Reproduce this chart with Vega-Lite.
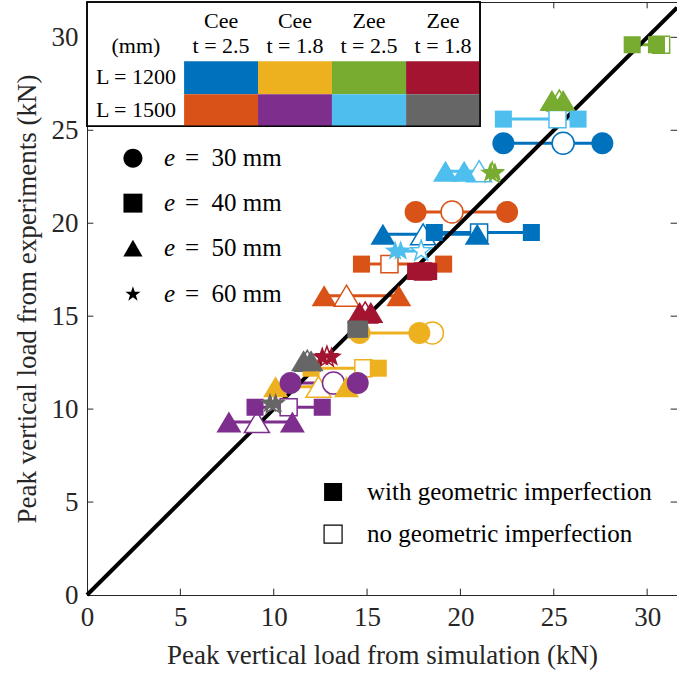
{
  "$schema": "https://vega.github.io/schema/vega-lite/v6.json",
  "width": 590,
  "height": 593,
  "autosize": {"type": "none"},
  "padding": {"left": 87, "top": 2, "right": 0, "bottom": 83},
  "background": "white",
  "config": {
    "view": {"stroke": "#262626", "strokeWidth": 1},
    "font": "'Liberation Serif', 'Times New Roman', serif",
    "axis": {
      "grid": false,
      "ticks": false,
      "labelFlush": false,
      "labelOverlap": false,
      "domainColor": "#262626",
      "labelColor": "#262626",
      "titleColor": "#262626",
      "labelFont": "'Liberation Serif', 'Times New Roman', serif",
      "titleFont": "'Liberation Serif', 'Times New Roman', serif",
      "labelFontSize": 27,
      "titleFontSize": 27,
      "titleFontWeight": "normal",
      "domainWidth": 1
    },
    "text": {"font": "'Liberation Serif', 'Times New Roman', serif"}
  },
  "datasets": {
    "pts": [
      {"g": "C25_1200", "e": 30, "exp": 24.3, "sim": 22.3, "imp": "with"},
      {"g": "C25_1200", "e": 30, "exp": 24.3, "sim": 25.5, "imp": "no"},
      {"g": "C25_1200", "e": 30, "exp": 24.3, "sim": 27.6, "imp": "with"},
      {"g": "C25_1200", "e": 40, "exp": 19.5, "sim": 18.6, "imp": "with"},
      {"g": "C25_1200", "e": 40, "exp": 19.5, "sim": 21.0, "imp": "no"},
      {"g": "C25_1200", "e": 40, "exp": 19.5, "sim": 23.8, "imp": "with"},
      {"g": "C25_1200", "e": 50, "exp": 19.4, "sim": 15.85, "imp": "with"},
      {"g": "C25_1200", "e": 50, "exp": 19.4, "sim": 18.0, "imp": "no"},
      {"g": "C25_1200", "e": 50, "exp": 19.4, "sim": 20.9, "imp": "with"},
      {"g": "C25_1500", "e": 30, "exp": 20.6, "sim": 17.6, "imp": "with"},
      {"g": "C25_1500", "e": 30, "exp": 20.6, "sim": 19.55, "imp": "no"},
      {"g": "C25_1500", "e": 30, "exp": 20.6, "sim": 22.5, "imp": "with"},
      {"g": "C25_1500", "e": 40, "exp": 17.8, "sim": 14.7, "imp": "with"},
      {"g": "C25_1500", "e": 40, "exp": 17.8, "sim": 16.2, "imp": "no"},
      {"g": "C25_1500", "e": 40, "exp": 17.8, "sim": 19.1, "imp": "with"},
      {"g": "C25_1500", "e": 50, "exp": 16.1, "sim": 12.7, "imp": "with"},
      {"g": "C25_1500", "e": 50, "exp": 16.1, "sim": 13.9, "imp": "no"},
      {"g": "C25_1500", "e": 50, "exp": 16.1, "sim": 16.7, "imp": "with"},
      {"g": "C18_1200", "e": 30, "exp": 14.1, "sim": 14.6, "imp": "with"},
      {"g": "C18_1200", "e": 30, "exp": 14.1, "sim": 18.5, "imp": "no"},
      {"g": "C18_1200", "e": 30, "exp": 14.1, "sim": 17.8, "imp": "with"},
      {"g": "C18_1200", "e": 40, "exp": 12.2, "sim": 12.0, "imp": "with"},
      {"g": "C18_1200", "e": 40, "exp": 12.2, "sim": 14.8, "imp": "no"},
      {"g": "C18_1200", "e": 40, "exp": 12.2, "sim": 15.6, "imp": "with"},
      {"g": "C18_1200", "e": 50, "exp": 11.2, "sim": 10.1, "imp": "with"},
      {"g": "C18_1200", "e": 50, "exp": 11.2, "sim": 12.4, "imp": "no"},
      {"g": "C18_1200", "e": 50, "exp": 11.2, "sim": 13.9, "imp": "with"},
      {"g": "C18_1500", "e": 30, "exp": 11.4, "sim": 10.9, "imp": "with"},
      {"g": "C18_1500", "e": 30, "exp": 11.4, "sim": 13.2, "imp": "no"},
      {"g": "C18_1500", "e": 30, "exp": 11.4, "sim": 14.5, "imp": "with"},
      {"g": "C18_1500", "e": 40, "exp": 10.1, "sim": 9.0, "imp": "with"},
      {"g": "C18_1500", "e": 40, "exp": 10.1, "sim": 10.8, "imp": "no"},
      {"g": "C18_1500", "e": 40, "exp": 10.1, "sim": 12.6, "imp": "with"},
      {"g": "C18_1500", "e": 50, "exp": 9.3, "sim": 7.6, "imp": "with"},
      {"g": "C18_1500", "e": 50, "exp": 9.3, "sim": 9.1, "imp": "no"},
      {"g": "C18_1500", "e": 50, "exp": 9.3, "sim": 11.0, "imp": "with"},
      {"g": "Z25_1200", "e": 40, "exp": 29.6, "sim": 29.2, "imp": "with"},
      {"g": "Z25_1200", "e": 40, "exp": 29.6, "sim": 30.75, "imp": "no"},
      {"g": "Z25_1200", "e": 40, "exp": 29.6, "sim": 30.5, "imp": "with"},
      {"g": "Z25_1200", "e": 50, "exp": 26.6, "sim": 24.9, "imp": "with"},
      {"g": "Z25_1200", "e": 50, "exp": 26.6, "sim": 25.3, "imp": "no"},
      {"g": "Z25_1200", "e": 50, "exp": 26.6, "sim": 25.5, "imp": "with"},
      {"g": "Z25_1200", "e": 60, "exp": 22.7, "sim": 21.6, "imp": "with"},
      {"g": "Z25_1200", "e": 60, "exp": 22.7, "sim": 21.7, "imp": "no"},
      {"g": "Z25_1200", "e": 60, "exp": 22.7, "sim": 21.85, "imp": "with"},
      {"g": "Z25_1500", "e": 40, "exp": 25.6, "sim": 22.3, "imp": "with"},
      {"g": "Z25_1500", "e": 40, "exp": 25.6, "sim": 25.2, "imp": "no"},
      {"g": "Z25_1500", "e": 40, "exp": 25.6, "sim": 26.3, "imp": "with"},
      {"g": "Z25_1500", "e": 50, "exp": 22.8, "sim": 20.2, "imp": "with"},
      {"g": "Z25_1500", "e": 50, "exp": 22.8, "sim": 21.0, "imp": "no"},
      {"g": "Z25_1500", "e": 50, "exp": 22.8, "sim": 19.2, "imp": "with"},
      {"g": "Z25_1500", "e": 60, "exp": 18.5, "sim": 16.5, "imp": "with"},
      {"g": "Z25_1500", "e": 60, "exp": 18.5, "sim": 17.9, "imp": "no"},
      {"g": "Z25_1500", "e": 60, "exp": 18.5, "sim": 16.8, "imp": "with"},
      {"g": "Z18_1200", "e": 40, "exp": 17.4, "sim": 17.6, "imp": "with"},
      {"g": "Z18_1200", "e": 40, "exp": 17.4, "sim": 18.0, "imp": "no"},
      {"g": "Z18_1200", "e": 40, "exp": 17.4, "sim": 18.3, "imp": "with"},
      {"g": "Z18_1200", "e": 50, "exp": 15.2, "sim": 14.6, "imp": "with"},
      {"g": "Z18_1200", "e": 50, "exp": 15.2, "sim": 14.9, "imp": "no"},
      {"g": "Z18_1200", "e": 50, "exp": 15.2, "sim": 15.2, "imp": "with"},
      {"g": "Z18_1200", "e": 60, "exp": 12.8, "sim": 12.6, "imp": "with"},
      {"g": "Z18_1200", "e": 60, "exp": 12.8, "sim": 12.85, "imp": "no"},
      {"g": "Z18_1200", "e": 60, "exp": 12.8, "sim": 13.1, "imp": "with"},
      {"g": "Z18_1500", "e": 40, "exp": 14.3, "sim": 14.4, "imp": "with"},
      {"g": "Z18_1500", "e": 40, "exp": 14.3, "sim": 14.5, "imp": "no"},
      {"g": "Z18_1500", "e": 40, "exp": 14.3, "sim": 14.6, "imp": "with"},
      {"g": "Z18_1500", "e": 50, "exp": 12.6, "sim": 11.6, "imp": "with"},
      {"g": "Z18_1500", "e": 50, "exp": 12.6, "sim": 11.8, "imp": "no"},
      {"g": "Z18_1500", "e": 50, "exp": 12.6, "sim": 12.0, "imp": "with"},
      {"g": "Z18_1500", "e": 60, "exp": 10.3, "sim": 9.8, "imp": "with"},
      {"g": "Z18_1500", "e": 60, "exp": 10.3, "sim": 9.95, "imp": "no"},
      {"g": "Z18_1500", "e": 60, "exp": 10.3, "sim": 10.1, "imp": "with"}
    ],
    "diag": [{"sim": 0, "exp": 0}, {"sim": 31.6, "exp": 31.6}],
    "tickvals": [{"v": 5}, {"v": 10}, {"v": 15}, {"v": 20}, {"v": 25}, {"v": 30}],
    "box": [{"x0": 0, "x1": 21.05, "y0": 25.22, "y1": 31.9}],
    "cells": [
      {"g": "C25_1200", "x0": 5.2, "x1": 9.16, "y0": 26.94, "y1": 28.71},
      {"g": "C18_1200", "x0": 9.16, "x1": 13.12, "y0": 26.94, "y1": 28.71},
      {"g": "Z25_1200", "x0": 13.12, "x1": 17.09, "y0": 26.94, "y1": 28.71},
      {"g": "Z18_1200", "x0": 17.09, "x1": 21.05, "y0": 26.94, "y1": 28.71},
      {"g": "C25_1500", "x0": 5.2, "x1": 9.16, "y0": 25.22, "y1": 26.94},
      {"g": "C18_1500", "x0": 9.16, "x1": 13.12, "y0": 25.22, "y1": 26.94},
      {"g": "Z25_1500", "x0": 13.12, "x1": 17.09, "y0": 25.22, "y1": 26.94},
      {"g": "Z18_1500", "x0": 17.09, "x1": 21.05, "y0": 25.22, "y1": 26.94}
    ],
    "tabtext": [
      {"label": "Cee", "x": 7.18, "y": 30.86},
      {"label": "t = 2.5", "x": 7.18, "y": 29.52},
      {"label": "Cee", "x": 11.14, "y": 30.86},
      {"label": "t = 1.8", "x": 11.14, "y": 29.52},
      {"label": "Zee", "x": 15.1, "y": 30.86},
      {"label": "t = 2.5", "x": 15.1, "y": 29.52},
      {"label": "Zee", "x": 19.07, "y": 30.86},
      {"label": "t = 1.8", "x": 19.07, "y": 29.52},
      {"label": "(mm)", "x": 2.62, "y": 29.52},
      {"label": "L = 1200", "x": 2.62, "y": 27.85},
      {"label": "L = 1500", "x": 2.62, "y": 26.08}
    ],
    "eleg": [
      {"key": "L30", "label": "=\u200230 mm", "x": 2.46, "xt": 4.12, "xr": 5.25, "y": 23.5},
      {"key": "L40", "label": "=\u200240 mm", "x": 2.46, "xt": 4.12, "xr": 5.25, "y": 21.08},
      {"key": "L50", "label": "=\u200250 mm", "x": 2.46, "xt": 4.12, "xr": 5.25, "y": 18.66},
      {"key": "L60", "label": "=\u200260 mm", "x": 2.46, "xt": 4.12, "xr": 5.25, "y": 16.18}
    ],
    "impleg": [
      {"imp": "with", "label": "with geometric imperfection", "x": 13.18, "xt": 15.0, "y": 5.54},
      {"imp": "no", "label": "no geometric imperfection", "x": 13.18, "xt": 15.0, "y": 3.28}
    ]
  },
  "layer": [
    {
      "data": {"name": "pts"},
      "mark": {"type": "line", "strokeWidth": 3},
      "encoding": {
        "x": {"field": "sim", "type": "quantitative", "scale": {"domain": [0, 31.6], "nice": false, "zero": false},
              "axis": {"values": [0, 5, 10, 15, 20, 25, 30], "title": "Peak vertical load from simulation (kN)", "labelPadding": 9, "titlePadding": 12}},
        "y": {"field": "exp", "type": "quantitative", "scale": {"domain": [0, 31.9], "nice": false, "zero": false},
              "axis": {"values": [0, 5, 10, 15, 20, 25, 30], "title": "Peak vertical load from experiments (kN)", "labelPadding": 9, "titlePadding": 10}},
        "color": {"field": "g", "type": "nominal", "legend": null,
                  "scale": {"domain": ["C25_1200", "C18_1200", "Z25_1200", "Z18_1200", "C25_1500", "C18_1500", "Z25_1500", "Z18_1500"],
                            "range": ["#0072BD", "#EDB120", "#77AC30", "#A2142F", "#D95319", "#7E2F8E", "#4DBEEE", "#666666"]}},
        "detail": {"field": "e", "type": "nominal"},
        "order": {"field": "sim", "type": "quantitative"}
      }
    },
    {
      "data": {"name": "tickvals"},
      "mark": {"type": "rule", "color": "#262626", "strokeWidth": 1},
      "encoding": {"x": {"field": "v", "type": "quantitative"}, "y": {"datum": 0}, "y2": {"datum": 0.34}}
    },
    {
      "data": {"name": "tickvals"},
      "mark": {"type": "rule", "color": "#262626", "strokeWidth": 1},
      "encoding": {"x": {"field": "v", "type": "quantitative"}, "y": {"datum": 31.9}, "y2": {"datum": 31.56}}
    },
    {
      "data": {"name": "tickvals"},
      "mark": {"type": "rule", "color": "#262626", "strokeWidth": 1},
      "encoding": {"y": {"field": "v", "type": "quantitative"}, "x": {"datum": 0}, "x2": {"datum": 0.34}}
    },
    {
      "data": {"name": "tickvals"},
      "mark": {"type": "rule", "color": "#262626", "strokeWidth": 1},
      "encoding": {"y": {"field": "v", "type": "quantitative"}, "x": {"datum": 31.6}, "x2": {"datum": 31.26}}
    },
    {
      "data": {"name": "diag"},
      "mark": {"type": "line", "color": "black", "strokeWidth": 4},
      "encoding": {
        "x": {"field": "sim", "type": "quantitative"},
        "y": {"field": "exp", "type": "quantitative"}
      }
    },
    {
      "data": {"name": "pts"},
      "transform": [{"filter": "datum.imp == 'no'"}],
      "mark": {"type": "point", "filled": false, "fill": "white", "strokeWidth": 1.5, "opacity": 1, "size": 576},
      "encoding": {
        "x": {"field": "sim", "type": "quantitative"},
        "y": {"field": "exp", "type": "quantitative"},
        "color": {"field": "g", "type": "nominal", "legend": null},
        "shape": {"field": "e", "type": "nominal", "legend": null,
                  "scale": {"domain": [30, 40, 50, 60, "L30", "L40", "L50", "L60"],
                            "range": [
                              "M0.917,0A0.917,0.917 0 1,1 -0.917,0A0.917,0.917 0 1,1 0.917,0Z",
                              "M-0.71,-0.71H0.71V0.71H-0.71Z",
                              "M0,-0.875L1.04,0.875H-1.04Z",
                              "M0,-0.9L0.212,-0.291L0.856,-0.278L0.342,0.111L0.529,0.728L0,0.36L-0.529,0.728L-0.342,0.111L-0.856,-0.278L-0.212,-0.291Z",
                              "M0.79,0A0.79,0.79 0 1,1 -0.79,0A0.79,0.79 0 1,1 0.79,0Z",
                              "M-0.79,-0.79H0.79V0.79H-0.79Z",
                              "M0,-0.7L0.8,0.7H-0.8Z",
                              "M0,-0.66L0.153,-0.21L0.628,-0.204L0.247,0.08L0.388,0.534L0,0.26L-0.388,0.534L-0.247,0.08L-0.628,-0.204L-0.153,-0.21Z"
                            ]}}
      }
    },
    {
      "data": {"name": "pts"},
      "transform": [{"filter": "datum.imp == 'with'"}],
      "mark": {"type": "point", "filled": true, "opacity": 1, "size": 576},
      "encoding": {
        "x": {"field": "sim", "type": "quantitative"},
        "y": {"field": "exp", "type": "quantitative"},
        "color": {"field": "g", "type": "nominal", "legend": null},
        "shape": {"field": "e", "type": "nominal", "legend": null}
      }
    },
    {
      "data": {"name": "box"},
      "mark": {"type": "rect", "fill": "white", "stroke": "black", "strokeWidth": 1.5},
      "encoding": {
        "x": {"field": "x0", "type": "quantitative"},
        "x2": {"field": "x1"},
        "y": {"field": "y0", "type": "quantitative"},
        "y2": {"field": "y1"}
      }
    },
    {
      "data": {"name": "cells"},
      "mark": {"type": "rect", "opacity": 1},
      "encoding": {
        "x": {"field": "x0", "type": "quantitative"},
        "x2": {"field": "x1"},
        "y": {"field": "y0", "type": "quantitative"},
        "y2": {"field": "y1"},
        "color": {"field": "g", "type": "nominal", "legend": null}
      }
    },
    {
      "data": {"name": "box"},
      "mark": {"type": "rect", "filled": false, "stroke": "black", "strokeWidth": 1.5},
      "encoding": {
        "x": {"field": "x0", "type": "quantitative"},
        "x2": {"field": "x1"},
        "y": {"field": "y0", "type": "quantitative"},
        "y2": {"field": "y1"}
      }
    },
    {
      "data": {"name": "tabtext"},
      "mark": {"type": "text", "fontSize": 22, "align": "center", "baseline": "middle", "color": "black", "font": "'Liberation Serif', 'Times New Roman', serif"},
      "encoding": {
        "x": {"field": "x", "type": "quantitative"},
        "y": {"field": "y", "type": "quantitative"},
        "text": {"field": "label"}
      }
    },
    {
      "data": {"name": "eleg"},
      "mark": {"type": "point", "filled": true, "opacity": 1, "color": "black", "size": 576},
      "encoding": {
        "x": {"field": "x", "type": "quantitative"},
        "y": {"field": "y", "type": "quantitative"},
        "shape": {"field": "key", "type": "nominal", "legend": null}
      }
    },
    {
      "data": {"name": "eleg"},
      "mark": {"type": "text", "fontSize": 25, "fontStyle": "italic", "align": "left", "baseline": "middle", "color": "black", "font": "'Liberation Serif', 'Times New Roman', serif"},
      "encoding": {
        "x": {"field": "xt", "type": "quantitative"},
        "y": {"field": "y", "type": "quantitative"},
        "text": {"value": "e"}
      }
    },
    {
      "data": {"name": "eleg"},
      "mark": {"type": "text", "fontSize": 25, "align": "left", "baseline": "middle", "color": "black", "font": "'Liberation Serif', 'Times New Roman', serif"},
      "encoding": {
        "x": {"field": "xr", "type": "quantitative"},
        "y": {"field": "y", "type": "quantitative"},
        "text": {"field": "label"}
      }
    },
    {
      "data": {"name": "impleg"},
      "transform": [{"filter": "datum.imp == 'with'"}],
      "mark": {"type": "square", "filled": true, "opacity": 1, "color": "black", "size": 324},
      "encoding": {
        "x": {"field": "x", "type": "quantitative"},
        "y": {"field": "y", "type": "quantitative"}
      }
    },
    {
      "data": {"name": "impleg"},
      "transform": [{"filter": "datum.imp == 'no'"}],
      "mark": {"type": "square", "filled": false, "fill": "white", "opacity": 1, "stroke": "black", "strokeWidth": 1.2, "size": 324},
      "encoding": {
        "x": {"field": "x", "type": "quantitative"},
        "y": {"field": "y", "type": "quantitative"}
      }
    },
    {
      "data": {"name": "impleg"},
      "mark": {"type": "text", "fontSize": 25, "align": "left", "baseline": "middle", "color": "black", "font": "'Liberation Serif', 'Times New Roman', serif"},
      "encoding": {
        "x": {"field": "xt", "type": "quantitative"},
        "y": {"field": "y", "type": "quantitative"},
        "text": {"field": "label"}
      }
    }
  ]
}
